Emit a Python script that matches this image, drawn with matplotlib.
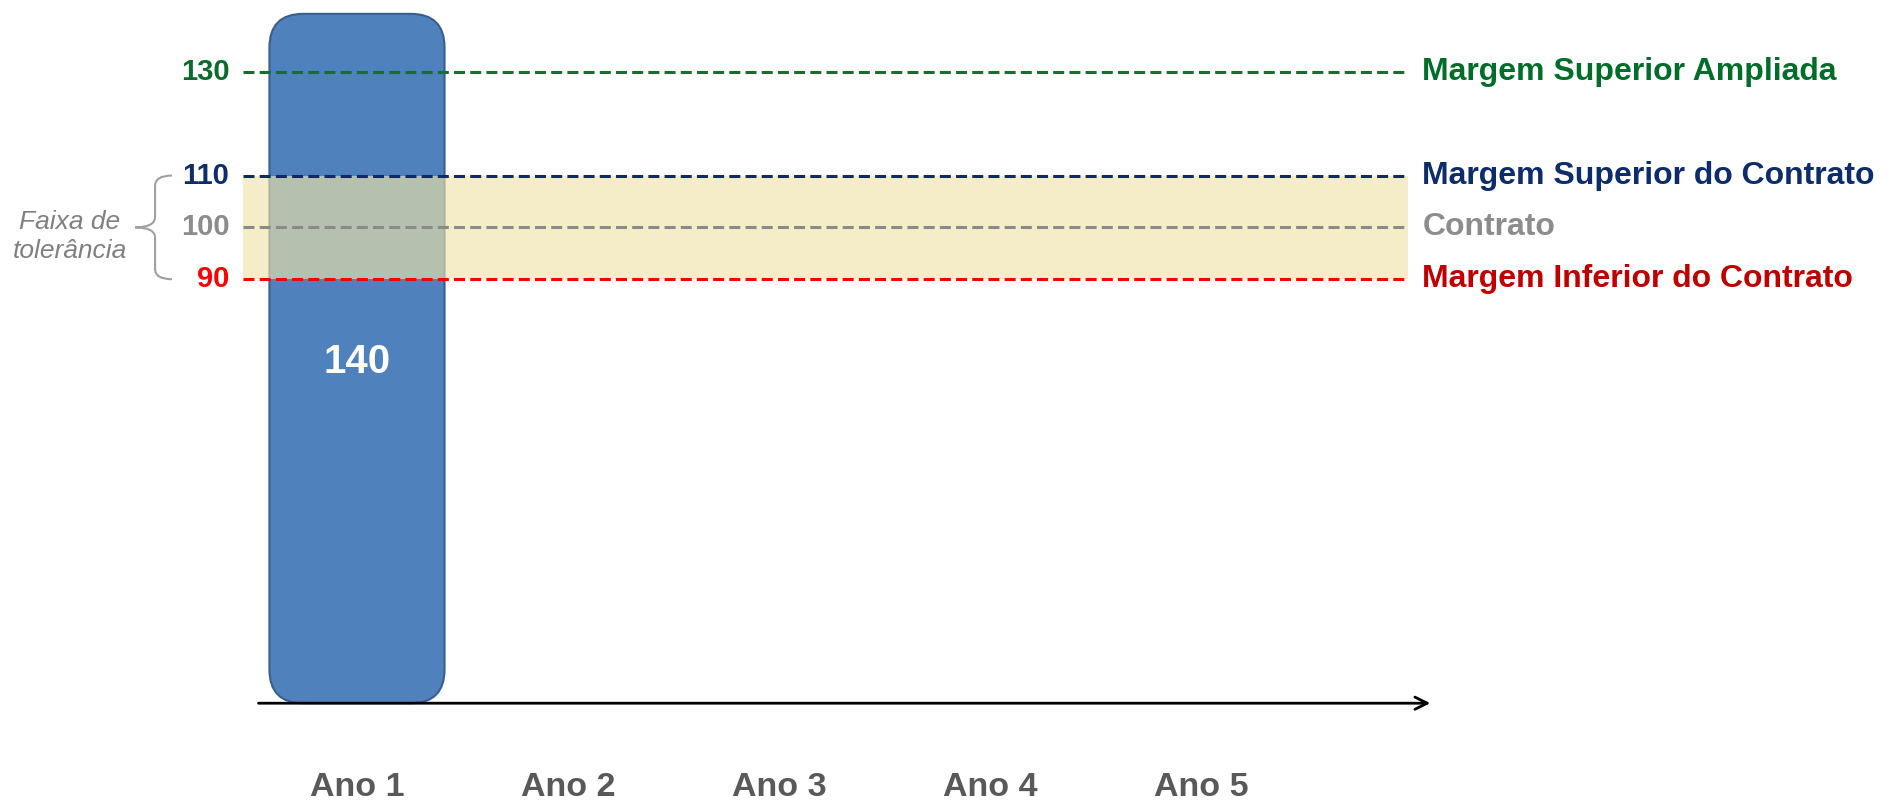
import matplotlib.pyplot as plt
from matplotlib.patches import FancyBboxPatch, PathPatch
from matplotlib.path import Path

plt.rcParams['font.family'] = ['Liberation Sans', 'DejaVu Sans']

# data
anos = ['Ano 1', 'Ano 2', 'Ano 3', 'Ano 4', 'Ano 5']
valores = [140]  # only Ano 1 has a bar
margem_valores = [130, 110, 100, 90]
margem_nomes = ['Margem Superior Ampliada', 'Margem Superior do Contrato',
                'Contrato', 'Margem Inferior do Contrato']
line_colors = ['#1A6E2C', '#0F2B66', '#8A8A8A', '#FF0000']
tick_colors = ['#0A6B2A', '#0D2C6C', '#8C8C8C', '#FF0000']
text_colors = ['#006E28', '#0D2C6C', '#8C8C8C', '#C00000']
faixa = (90, 110)
base = 8.2  # where the horizontal axis sits

fig = plt.figure(figsize=(18.97, 8.02), dpi=100)
ax = fig.add_axes([0, 0, 1, 1])
ax.set_xlim(-0.692, 8.299)
ax.set_ylim(-10.86, 143.87)
ax.axis('off')

xs = list(range(1, len(anos) + 1))

# pixel/unit ratio so the rounded corners stay round
px_x = fig.get_figwidth() * fig.dpi / (ax.get_xlim()[1] - ax.get_xlim()[0])
px_y = fig.get_figheight() * fig.dpi / (ax.get_ylim()[1] - ax.get_ylim()[0])
aspect = px_x / px_y

bar_w = 0.83
for x, v in zip(xs, valores):
    bar = FancyBboxPatch((x - bar_w / 2, base), bar_w, v - base + 1.2,
                         boxstyle='round,pad=0,rounding_size=0.16',
                         mutation_aspect=aspect,
                         facecolor='#4F81BD', edgecolor='#3A5F8E', lw=1.5, zorder=2)
    ax.add_patch(bar)
    ax.text(x, (v + base) / 2, str(v), color='white', fontsize=29,
            fontweight='bold', ha='center', va='center', zorder=5)

# tolerance band (on top of the bar, semi transparent)
ax.fill_between([0.46, 5.98], faixa[0], faixa[1], color='#EFE4A8', alpha=0.64,
                lw=0, zorder=3)

for v, nome, lc, tc, nc in zip(margem_valores, margem_nomes, line_colors,
                               tick_colors, text_colors):
    ax.plot([0.46, 5.98], [v, v], color=lc, lw=2.2, ls=(0, (3.6, 1.7)), zorder=4)
    ax.text(0.395, v, str(v), color=tc, fontsize=21, fontweight='bold',
            ha='right', va='center')
    ax.text(6.05, v, nome, color=nc, fontsize=23, fontweight='bold',
            ha='left', va='center')

# x axis arrow
ax.annotate('', xy=(6.1, base), xytext=(0.52, base),
            arrowprops=dict(arrowstyle='->', lw=2, color='black',
                            mutation_scale=22), zorder=4)

for x, a in zip(xs, anos):
    ax.text(x, -8.0, a, color='#595959', fontsize=24.5, fontweight='bold',
            ha='center', va='center')

# brace for the tolerance band
xr, xm, xt = 0.123, 0.043, -0.052
mid = (faixa[0] + faixa[1]) / 2
verts = [(xr, faixa[1]), (xm, faixa[1]), (xm, faixa[1] - 2),
         (xm, mid + 2), (xm, mid), (xt, mid),
         (xm, mid), (xm, mid - 2),
         (xm, faixa[0] + 2), (xm, faixa[0]), (xr, faixa[0])]
codes = [Path.MOVETO, Path.CURVE3, Path.CURVE3,
         Path.LINETO, Path.CURVE3, Path.CURVE3,
         Path.CURVE3, Path.CURVE3,
         Path.LINETO, Path.CURVE3, Path.CURVE3]
ax.add_patch(PathPatch(Path(verts, codes), fill=False, edgecolor='#A0A0A0', lw=1.5))
ax.text(-0.36, 98.2, 'Faixa de\ntolerância', color='#808080', fontsize=19,
        style='italic', ha='center', va='center', linespacing=1.25)

fig.savefig('out.png', dpi=100)
